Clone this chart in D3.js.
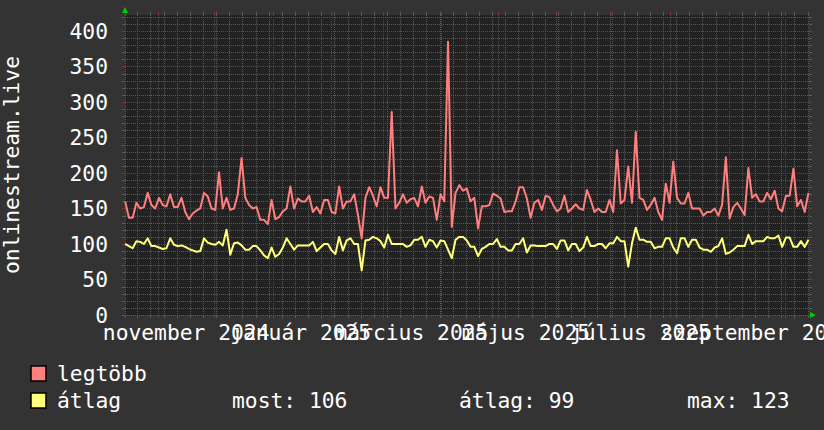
<!DOCTYPE html>
<html>
<head>
<meta charset="utf-8">
<script src="https://cdn.jsdelivr.net/npm/d3@7"></script>
<style>
	body { margin: 0; background: #333333; }
	svg { display: block; font-family: "DejaVu Sans Mono", monospace; }
</style>
</head>
<body>
<script>
// one value every 2 days, starting 2024-10-14
const startDay = Date.UTC(2024, 9, 14, 12);
const legtobb = [
	160,137,137,158,150,152,172,155,150,165,155,153,170,152,152,165,145,135,143,147,150,172,167,150,148,201,150,165,148,150,170,
	221,165,155,150,152,134,134,128,162,135,138,146,150,181,150,164,160,160,168,145,152,143,162,162,145,143,181,150,160,160,170,
	141,108,165,180,168,153,180,165,165,286,150,158,170,158,163,165,153,181,158,167,165,134,170,160,385,124,172,183,175,178,
	160,165,122,153,153,155,171,168,164,145,146,146,160,180,180,164,137,158,162,148,168,166,155,146,150,168,145,150,156,150,148,
	176,162,145,150,145,145,162,145,232,157,162,209,158,258,165,162,148,155,165,145,134,185,158,216,165,157,157,172,150,150,150,
	140,145,145,150,140,155,222,136,152,158,150,141,207,165,170,160,160,172,163,175,150,146,168,168,206,153,162,145,172
];
const atlag = [
	100,97,94,104,103,100,108,97,97,95,93,94,108,99,97,98,96,93,91,89,90,108,102,100,99,103,98,120,85,101,102,
	98,92,92,97,97,91,84,80,95,82,86,95,108,100,92,98,98,98,98,103,90,95,100,100,91,86,110,91,105,108,100,
	100,63,105,106,110,108,104,95,113,100,100,100,100,96,98,106,106,110,96,106,104,95,105,104,92,80,106,110,110,105,
	96,96,83,93,96,100,100,107,96,96,91,91,100,100,108,88,98,98,97,97,97,100,100,93,105,105,91,100,100,90,95,
	110,97,97,100,100,94,101,101,110,104,104,68,101,123,106,106,103,103,94,96,96,108,108,95,87,108,108,96,106,106,95,
	92,92,89,95,97,108,86,88,92,97,97,97,113,100,104,104,104,110,108,108,112,96,109,109,96,96,104,96,106
];
const yTicks = [0, 50, 100, 150, 200, 250, 300, 350, 400];
const monthNames = ["január", "február", "március", "április", "május", "június",
	"július", "augusztus", "szeptember", "október", "november", "december"];
const seriesNames = ["legtöbb", "átlag"];
const seriesColors = ["#ff7f7f", "#ffff7a"];
const statLabels = ["most: 106", "átlag: 99", "max: 123"];

function draw() {
	const W = 824, H = 430;
	// plot box, rrdtool style
	let plot = { left: 125, right: 809, top: 15, bottom: 315 };

	let x = d3.scaleUtc()
		.domain([new Date(Date.UTC(2024, 9, 14, 10)), new Date(Date.UTC(2025, 9, 13, 19))])
		.range([plot.left, plot.right]);
	let y = d3.scaleLinear().domain([0, 422.5]).range([plot.bottom, plot.top]);

	let svg = d3.select("body").append("svg").attr("width", W).attr("height", H);
	svg.append("rect").attr("width", W).attr("height", H).attr("fill", "#333333");
	svg.append("rect")
		.attr("x", plot.left).attr("y", plot.top)
		.attr("width", plot.right - plot.left).attr("height", plot.bottom - plot.top)
		.attr("fill", "#222222");

	let grid = svg.append("g").attr("shape-rendering", "crispEdges");
	let minorCol = "#5a5a5a", majorCol = "#843434";

	// horizontal grid: minor every 10, major every 50
	let hVals = d3.range(0, 423, 10);
	hVals.forEach((v) => {
		let yy = Math.round(y(v)) + 0.5;
		let col = v % 50 === 0 && v > 0 ? majorCol : minorCol;
		grid.append("line").attr("x1", plot.left).attr("x2", plot.right).attr("y1", yy).attr("y2", yy)
			.attr("stroke", col).attr("stroke-dasharray", "1,1");
		grid.append("line").attr("x1", plot.left - 3).attr("x2", plot.left).attr("y1", yy).attr("y2", yy).attr("stroke", col);
		grid.append("line").attr("x1", plot.right).attr("x2", plot.right + 3).attr("y1", yy).attr("y2", yy).attr("stroke", col);
	});

	// vertical grid: weeks (minor) and months (major)
	let [d0, d1] = x.domain();
	let weeks = d3.utcMonday.range(d3.utcDay.offset(d0, -1), d1);
	let months = d3.utcMonth.range(d0, d1);
	let vLine = (d, col) => {
		let xx = Math.max(plot.left, Math.round(x(d))) + 0.5;
		grid.append("line").attr("x1", xx).attr("x2", xx).attr("y1", plot.top).attr("y2", plot.bottom)
			.attr("stroke", col).attr("stroke-dasharray", "1,1");
		grid.append("line").attr("x1", xx).attr("x2", xx).attr("y1", plot.top - 3).attr("y2", plot.top).attr("stroke", col);
		grid.append("line").attr("x1", xx).attr("x2", xx).attr("y1", plot.bottom).attr("y2", plot.bottom + 3).attr("stroke", col);
	};
	weeks.forEach((d) => vLine(d, minorCol));
	months.forEach((d) => vLine(d, majorCol));

	// axis arrows
	svg.append("path").attr("d", "M122,13L128,13L125,7Z").attr("fill", "#00cc00");
	svg.append("path").attr("d", "M810,312L810,318L816,315Z").attr("fill", "#00cc00");

	// y labels
	svg.append("g").selectAll("text").data(yTicks).enter().append("text")
		.attr("x", 108).attr("y", (d) => y(d) + 8)
		.attr("text-anchor", "end").attr("fill", "#ffffff").attr("font-size", "21.3px")
		.text((d) => d);

	// x labels: every second month, centred on mid month
	let labelMonths = months.filter((d) => d.getUTCMonth() % 2 === 0);
	svg.append("g").selectAll("text").data(labelMonths).enter().append("text")
		.attr("x", (d) => x(d3.utcDay.offset(d, 15)))
		.attr("y", 340)
		.attr("text-anchor", "middle").attr("fill", "#ffffff").attr("font-size", "21.3px")
		.text((d) => monthNames[d.getUTCMonth()] + " " + d.getUTCFullYear());

	svg.append("text")
		.attr("transform", "translate(19,165) rotate(-90)")
		.attr("text-anchor", "middle").attr("fill", "#ffffff").attr("font-size", "21.3px")
		.text("onlinestream.live");

	// lines
	let line = d3.line()
		.x((d, i) => x(new Date(startDay + i * 2 * 86400000)))
		.y((d) => y(d));
	[legtobb, atlag].forEach((s, k) => {
		svg.append("path").datum(s)
			.attr("fill", "none").attr("stroke", seriesColors[k]).attr("stroke-width", 2)
			.attr("stroke-linejoin", "round")
			.attr("d", line);
	});

	// legend
	let leg = svg.append("g");
	seriesNames.forEach((n, k) => {
		let by = 381 + k * 27;
		leg.append("rect").attr("x", 31).attr("y", by - 15).attr("width", 15).attr("height", 15)
			.attr("fill", seriesColors[k]).attr("stroke", "#000000").attr("stroke-width", 1.5);
		leg.append("text").attr("x", 57).attr("y", by).attr("fill", "#ffffff").attr("font-size", "21.3px").text(n);
	});
	let statX = [232, 459, 687];
	statLabels.forEach((t, k) => {
		leg.append("text").attr("x", statX[k]).attr("y", 408).attr("fill", "#ffffff").attr("font-size", "21.3px").text(t);
	});
}

window.addEventListener("load", draw);
</script>
</body>
</html>
